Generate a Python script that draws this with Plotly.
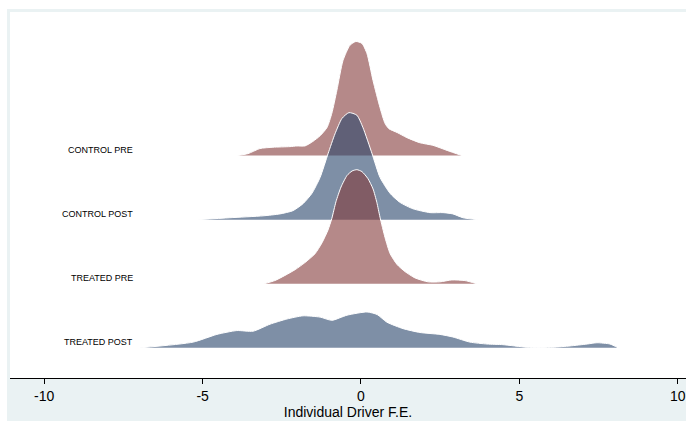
import plotly.graph_objects as go

# Ridge groups, drawn back to front
groups = ["CONTROL PRE", "CONTROL POST", "TREATED PRE", "TREATED POST"]
baselines = [3, 2, 1, 0]

# Kernel density estimates of the driver fixed effects (x grid, density height)
ctrl_pre_x = [-3.92, -3.57, -3.19, -2.78, -2.24, -2.02, -1.77, -1.52, -1.29, -1.07, -0.92, -0.76,
              -0.57, -0.35, -0.16, 0.03, 0.19, 0.38, 0.60, 0.76, 0.88, 1.14, 1.45, 1.86, 2.27, 2.72, 3.19]
ctrl_pre_d = [0.00, 0.03, 0.11, 0.13, 0.14, 0.15, 0.15, 0.22, 0.31, 0.44, 0.66, 1.02,
              1.48, 1.72, 1.78, 1.75, 1.59, 1.17, 0.75, 0.50, 0.42, 0.36, 0.28, 0.20, 0.16, 0.08, 0.00]

ctrl_post_x = [-5.15, -4.14, -3.09, -2.56, -2.15, -1.83, -1.55, -1.29, -1.04, -0.82, -0.60, -0.38,
               -0.13, 0.06, 0.35, 0.60, 0.92, 1.23, 1.64, 2.18, 2.59, 2.90, 3.22, 3.69]
ctrl_post_d = [0.00, 0.03, 0.06, 0.09, 0.14, 0.25, 0.41, 0.66, 1.03, 1.34, 1.58, 1.67,
               1.63, 1.44, 1.03, 0.66, 0.41, 0.27, 0.17, 0.11, 0.11, 0.09, 0.03, 0.00]

treat_pre_x = [-3.06, -2.72, -2.40, -2.08, -1.77, -1.45, -1.23, -1.04, -0.92, -0.79, -0.63, -0.44,
               -0.28, -0.13, 0.03, 0.22, 0.38, 0.50, 0.60, 0.76, 0.92, 1.14, 1.39, 1.71, 2.12, 2.49,
               2.87, 3.28, 3.66]
treat_pre_d = [0.00, 0.05, 0.13, 0.22, 0.33, 0.47, 0.64, 0.84, 1.02, 1.28, 1.51, 1.69,
               1.76, 1.78, 1.75, 1.64, 1.48, 1.27, 1.04, 0.72, 0.47, 0.30, 0.19, 0.09, 0.03, 0.03,
               0.06, 0.05, 0.00]

treat_post_x = [-6.98, -5.30, -4.55, -3.92, -3.41, -2.87, -2.34, -1.83, -1.29, -0.92, -0.44, 0.19,
                0.51, 0.82, 1.33, 1.86, 2.49, 2.90, 3.44, 3.98, 4.48, 5.24, 6.06, 6.60, 7.14,
                7.45, 7.86, 8.12]
treat_post_d = [0.00, 0.09, 0.21, 0.27, 0.26, 0.37, 0.45, 0.50, 0.48, 0.43, 0.51, 0.56,
                0.52, 0.40, 0.30, 0.24, 0.21, 0.17, 0.09, 0.06, 0.05, 0.01, 0.01, 0.03, 0.06,
                0.08, 0.06, 0.00]

x_ticks = [-10, -5, 0, 5, 10]

series = [(ctrl_pre_x, ctrl_pre_d), (ctrl_post_x, ctrl_post_d),
          (treat_pre_x, treat_pre_d), (treat_post_x, treat_post_d)]
fills = ["rgba(132,58,58,0.6)", "rgba(40,68,107,0.6)",
         "rgba(132,58,58,0.6)", "rgba(40,68,107,0.6)"]

fig = go.Figure()
for name, base, (xs, ds), col in zip(groups, baselines, series, fills):
    fig.add_trace(go.Scatter(
        x=xs, y=[base + d for d in ds], mode="lines", name=name,
        line=dict(color="white", width=1, shape="spline", smoothing=0.6),
        fill="toself", fillcolor=col, hoverinfo="skip", showlegend=False,
    ))
    fig.add_annotation(x=-7.12, y=base + 0.09, text=name, showarrow=False,
                       xanchor="right", yanchor="middle",
                       font=dict(family="Liberation Sans, Arial", size=9, color="black"))

# graph region: light frame with a thin white border outside it
fig.add_shape(type="rect", xref="paper", yref="paper", x0=-0.02, x1=-0.0044,
              y0=-0.2, y1=1.1, fillcolor="white", line_width=0, layer="below")
fig.add_shape(type="rect", xref="paper", yref="paper", x0=-0.02, x1=1.02,
              y0=1.0082, y1=1.1, fillcolor="white", line_width=0, layer="below")

fig.update_layout(
    width=686, height=421,
    margin=dict(l=10, r=0, t=12, b=43),
    paper_bgcolor="#eaf2f3", plot_bgcolor="white",
    font=dict(family="Liberation Sans, Arial", color="black"),
    xaxis=dict(range=[-11.08, 10.26], tickvals=x_ticks, ticktext=[str(t) for t in x_ticks],
               showgrid=False, zeroline=False, showline=True, linecolor="black", linewidth=1,
               ticks="outside", ticklen=5, tickcolor="black", tickfont=dict(size=14),
               title=dict(text="Individual Driver F.E.", font=dict(size=14), standoff=2)),
    yaxis=dict(range=[-0.47, 5.24], showgrid=False, zeroline=False, showline=False,
               showticklabels=False, ticks=""),
)

fig.write_html("out.html")
